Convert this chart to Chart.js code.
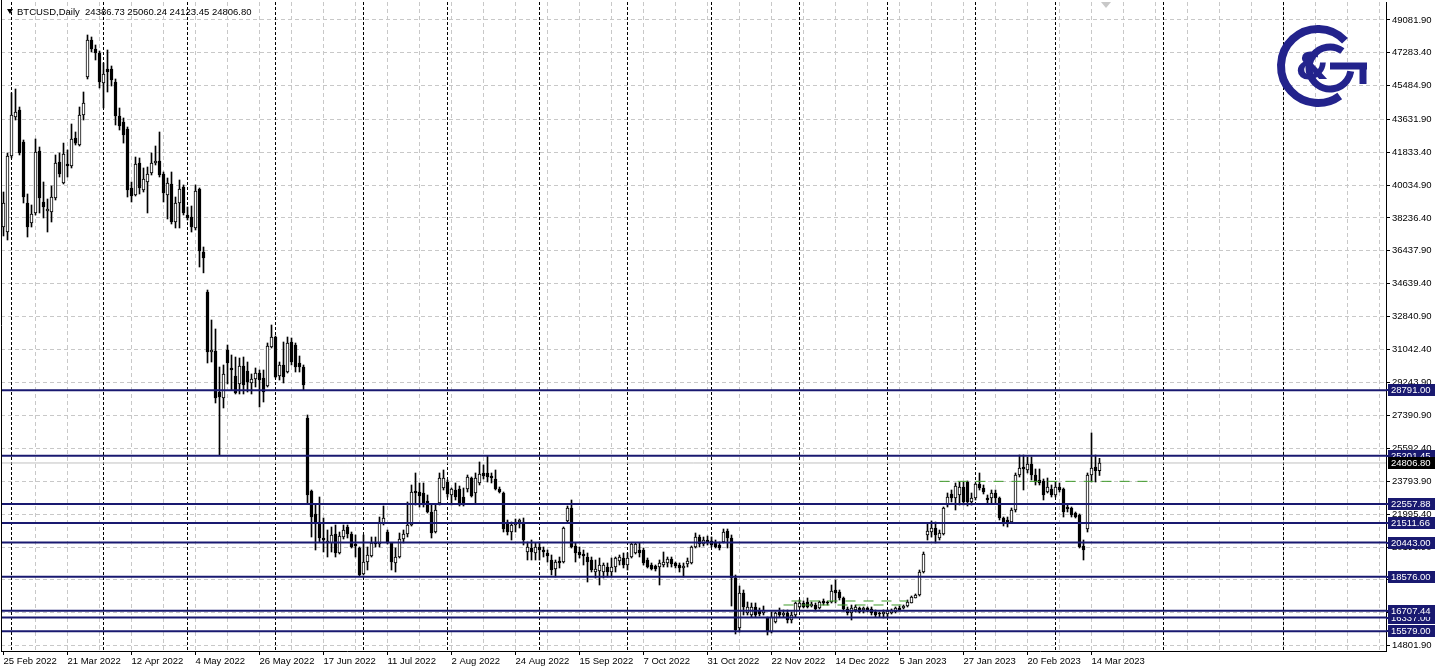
<!DOCTYPE html>
<html>
<head>
<meta charset="utf-8">
<title>BTCUSD Daily</title>
<script src="https://cdn.jsdelivr.net/npm/chart.js@4.4.0/dist/chart.umd.min.js"></script>
<style>
  html, body { margin: 0; padding: 0; background: #fff; }
</style>
</head>
<body>
<canvas id="chart" width="1437" height="672"></canvas>
<script>
const FONT = "'Liberation Sans', Arial, sans-serif";
const FSIZE = 9.5;
const NAVY = '#191970';

// daily bars (weekdays only), bar 0 = 25 Feb 2022, last bar = 16 Mar 2023
const opens = [
  37738, 37464, 41629, 43766, 44150, 42396, 39054, 37958, 38506, 41903,
  39108, 38615, 38560, 39328, 41300, 40150, 41191, 41081, 42616, 42232,
  43876, 45958, 47986, 47493, 47274, 45630, 46397, 46397, 45684, 43821,
  43492, 43109, 39876, 39492, 41246, 39766, 40204, 40698, 41246, 41355,
  40643, 39492, 40095, 38012, 39054, 39930, 38396, 38286, 37684, 39821,
  36368, 34176, 30888, 30943, 28696, 28368, 30998, 30012, 29573, 29135,
  30121, 29847, 29190, 29409, 29738, 29464, 29025, 31162, 31710, 29573,
  30176, 29792, 31436, 31272, 30286, 30066, 27272, 23271, 22011, 21572,
  20696, 20422, 20422, 20915, 19874, 20750, 21298, 20915, 20367, 20148,
  18723, 19380, 19709, 20476, 20367, 21518, 21024, 20422, 19326, 19654,
  20641, 20915, 21408, 23271, 23216, 23162, 22723, 22120, 21024, 22614,
  23436, 23764, 23052, 23326, 23381, 22942, 23381, 23984, 23162, 23710,
  24258, 24258, 24093, 23929, 23381, 23162, 21572, 21024, 21408, 21572,
  21572, 19928, 20148, 19874, 20202, 20038, 19874, 19490, 18997, 19435,
  19380, 21627, 22340, 20257, 19928, 19819, 19654, 19490, 18832, 18887,
  18832, 19106, 18832, 19106, 19435, 19600, 19216, 19654, 19874, 20038,
  20038, 19490, 19216, 19161, 19106, 19216, 19326, 19545, 19326, 19216,
  19052, 19271, 19326, 20202, 20750, 20367, 20586, 20531, 20476, 20312,
  20476, 21079, 20696, 18504, 15764, 17682, 16586, 16476, 16914, 16695,
  16586, 16312, 15544, 16092, 16640, 16476, 16586, 16202, 16476, 16914,
  17134, 17188, 16969, 17024, 16860, 17243, 17188, 17188, 17846, 17736,
  17408, 16805, 16586, 16750, 16860, 16750, 16860, 16805, 16640, 16586,
  16531, 16531, 16586, 16640, 16860, 16860, 16969, 17134, 17408, 17572,
  18832, 20860, 21024, 21244, 20696, 20915, 22504, 23107, 22888, 23052,
  23490, 23764, 22668, 22888, 23655, 23436, 22888, 22888, 23162, 22888,
  21792, 21682, 21572, 22230, 24148, 24586, 24422, 24751, 24148, 23874,
  23819, 23216, 23381, 23052, 23490, 23381, 22394, 22340, 22066, 21956,
  20257, 21189, 24148, 24586, 24386.73
];
const highs = [
  39656, 41794, 45082, 45301, 44314, 42506, 39547, 38944, 42561, 42122,
  40204, 39273, 39985, 41684, 41794, 42338, 41958, 43383, 42944, 44314,
  45136, 48260, 48150, 47712, 47383, 46726, 47438, 46561, 45849, 44260,
  43712, 43218, 40204, 41574, 41520, 40972, 41026, 41794, 42177, 42944,
  40752, 40424, 40752, 39382, 40314, 40040, 38834, 38889, 40040, 39876,
  36642, 34286, 32642, 32149, 30066, 30176, 31272, 30724, 30614, 30560,
  30614, 30340, 29683, 30012, 29902, 29902, 31382, 32368, 31765, 30340,
  31436, 31710, 31656, 31382, 30669, 30176, 27436, 23326, 22504, 22942,
  21792, 21134, 21298, 21408, 21024, 21408, 21408, 21024, 20860, 20202,
  20860, 20202, 20750, 20750, 21846, 22449, 21134, 20422, 20148, 20970,
  21134, 22668, 23600, 24258, 23710, 23710, 23052, 22504, 22504, 24258,
  24422, 23874, 23436, 23710, 23545, 23436, 24148, 24038, 24258, 24860,
  24696, 25189, 24258, 24422, 23490, 23216, 21682, 21572, 21737, 21737,
  21792, 20476, 20586, 20422, 20476, 20202, 20038, 19764, 19490, 19654,
  21298, 22449, 22778, 20422, 20202, 20038, 19874, 19654, 19490, 19600,
  19326, 19326, 19600, 19654, 19764, 19874, 19874, 20422, 20422, 20422,
  20148, 19600, 19326, 19216, 19490, 19928, 19654, 19654, 19380, 19326,
  19326, 19600, 20257, 20970, 20860, 20750, 20805, 20750, 20586, 20476,
  21189, 21189, 20860, 18668, 18065, 17846, 17188, 17134, 17134, 16860,
  16969, 16366, 16640, 16640, 16860, 16750, 16750, 16640, 17188, 17298,
  17243, 17408, 17188, 17134, 17243, 17353, 17243, 18120, 18394, 17846,
  17462, 16914, 17024, 17024, 16914, 16914, 16914, 16914, 16750, 16640,
  16750, 16750, 16805, 16914, 16969, 17024, 17298, 17517, 17627, 18942,
  19928, 21518, 21627, 21572, 21134, 22394, 23162, 23326, 23710, 23764,
  23764, 23819, 23162, 23710, 24258, 23600, 23052, 23326, 23326, 22942,
  21846, 21846, 22340, 24258, 25244, 25244, 25134, 25134, 24477, 24477,
  23929, 23984, 23600, 23764, 23710, 23436, 22504, 22394, 22120, 22011,
  20586, 24258, 26450, 25244, 25060.24
];
const lows = [
  37245, 37026, 41520, 43602, 41684, 39054, 37190, 37738, 38396, 38506,
  38232, 37464, 38012, 39218, 40478, 40095, 40478, 40972, 42232, 42177,
  43602, 45849, 47328, 46890, 45356, 44260, 45136, 45465, 43328, 43054,
  42338, 39382, 39108, 39437, 39547, 39656, 38506, 40588, 41136, 40478,
  39108, 38177, 37903, 37684, 37684, 38396, 38122, 37464, 37574, 35546,
  35224, 30286, 30340, 28094, 25244, 27820, 29135, 28806, 28587, 28587,
  28587, 28696, 28587, 28970, 27874, 28148, 28970, 31108, 29464, 29354,
  29190, 29738, 30176, 29792, 29792, 28806, 22614, 20750, 20038, 20476,
  19928, 19654, 19928, 19654, 19819, 20641, 20696, 20148, 19654, 18613,
  18668, 18942, 19654, 20202, 20202, 21408, 20367, 18942, 18832, 19600,
  20422, 20750, 21353, 22504, 22394, 22394, 22066, 20696, 20970, 22504,
  23326, 22942, 22504, 22778, 22449, 22449, 23216, 22942, 22559, 23600,
  23929, 23764, 23710, 23326, 23162, 21024, 20860, 20586, 21024, 21244,
  20312, 19490, 19490, 19490, 19490, 19654, 19380, 18668, 18558, 19052,
  19326, 21518, 20148, 19380, 19600, 19216, 18284, 18832, 18504, 18120,
  18504, 18558, 18558, 18832, 19216, 19052, 18942, 19600, 19819, 19654,
  19216, 19052, 18942, 18887, 18120, 19106, 19106, 19106, 19052, 18832,
  18558, 19106, 19271, 20148, 20202, 20257, 20312, 20202, 20148, 20038,
  20422, 20148, 16969, 15435, 15544, 16476, 16476, 16366, 16366, 16421,
  16476, 15380, 15490, 16038, 16366, 16366, 16038, 16038, 16366, 16860,
  16860, 16860, 16914, 16750, 16805, 17024, 17024, 17134, 17134, 17298,
  16695, 16476, 16202, 16640, 16586, 16586, 16640, 16476, 16366, 16366,
  16312, 16366, 16531, 16586, 16695, 16805, 16914, 17134, 17408, 17517,
  18778, 20586, 20750, 20422, 20586, 20860, 22394, 22668, 22230, 22504,
  22504, 22449, 22504, 22778, 23326, 23107, 22614, 22614, 22614, 21682,
  21353, 21298, 21518, 22120, 24038, 23326, 24258, 23874, 23600, 23600,
  22778, 23162, 22942, 22942, 23216, 21846, 22120, 21846, 21792, 20148,
  19490, 21024, 23764, 23764, 24123.45
];
const closes = [
  39054, 41629, 43876, 44040, 41794, 39382, 37738, 38451, 41848, 39328,
  38834, 38725, 39382, 41246, 40643, 41739, 41081, 42561, 42338, 43876,
  44534, 47986, 47493, 47274, 45684, 46123, 46232, 45794, 43821, 43273,
  42780, 39766, 39437, 41191, 39876, 40369, 40643, 41246, 41355, 40588,
  39602, 40150, 38012, 39054, 39821, 38506, 38232, 37738, 39711, 36423,
  36040, 30888, 30998, 28368, 28422, 29683, 30286, 29902, 28642, 30121,
  29080, 29244, 29409, 29738, 29354, 28696, 31217, 31710, 29518, 30176,
  29518, 31382, 30340, 30066, 30066, 29080, 23052, 21846, 21572, 20696,
  20586, 20531, 20860, 19874, 20805, 21134, 20915, 20202, 20257, 18668,
  19380, 19764, 20422, 20367, 21572, 21792, 20422, 19380, 19654, 20641,
  20915, 21408, 23216, 23162, 22997, 22559, 22120, 20970, 22230, 23984,
  23984, 23107, 23381, 22942, 22504, 22504, 24038, 22997, 23984, 24203,
  24093, 24038, 23984, 23381, 23216, 21189, 21024, 21408, 21572, 21682,
  20586, 20202, 19928, 20202, 20038, 19928, 19709, 18942, 19380, 19326,
  21244, 22340, 20202, 19874, 19764, 19709, 19380, 18942, 18997, 19216,
  19216, 18832, 19106, 19600, 19654, 19216, 19600, 20367, 20367, 19874,
  19326, 19106, 18997, 18997, 19326, 19380, 19545, 19271, 19161, 19052,
  19161, 19435, 20202, 20750, 20367, 20586, 20422, 20312, 20202, 20148,
  21024, 20696, 18504, 15654, 17682, 16914, 16914, 16914, 16476, 16531,
  16750, 15544, 16366, 16586, 16476, 16586, 16202, 16476, 17134, 17134,
  16914, 16914, 17079, 16805, 17188, 17134, 17134, 17791, 17682, 17408,
  16805, 16586, 16860, 16914, 16640, 16860, 16695, 16586, 16476, 16531,
  16640, 16695, 16750, 16860, 16750, 16969, 17188, 17462, 17572, 18832,
  19819, 21079, 21244, 20860, 20970, 22340, 22942, 22888, 23545, 23490,
  22668, 22668, 22888, 23655, 23436, 23216, 22778, 23162, 22888, 21792,
  21518, 21518, 22230, 24148, 24532, 24477, 24751, 24148, 23764, 23710,
  23052, 23490, 23052, 23490, 23326, 22120, 22285, 21956, 21846, 20202,
  20038, 24148, 24532, 24390, 24806.80
];

// axis labels: one date label every 16 bars
const dateLabels = ['25 Feb 2022', '21 Mar 2022', '12 Apr 2022', '4 May 2022', '26 May 2022',
  '17 Jun 2022', '11 Jul 2022', '2 Aug 2022', '24 Aug 2022', '15 Sep 2022', '7 Oct 2022',
  '31 Oct 2022', '22 Nov 2022', '14 Dec 2022', '5 Jan 2023', '27 Jan 2023', '20 Feb 2023', '14 Mar 2023'];
const priceTicks = [49081.90, 47283.40, 45484.90, 43631.90, 41833.40, 40034.90, 38236.40,
  36437.90, 34639.40, 32840.90, 31042.40, 29243.90, 27390.90, 25592.40, 23793.90, 21995.40,
  20196.90, 18398.40, 16599.90, 14801.90];

// horizontal support / resistance levels
const levels = [28791.00, 25201.45, 22557.88, 21511.66, 20443.00, 18576.00, 16337.00, 16707.44, 15579.00];
const lastPrice = 24806.80;

// first bar of each month (period separators); future slots count calendar days
const monthStarts = [2, 25, 46, 68, 90, 111, 134, 156, 177, 199, 221, 243, 263, 290, 320];

// green dashed lines: price, first bar, last bar
const greenPrices = [17243, 17024, 23800];
const greenFrom = [197, 195, 234];
const greenTo = [226, 225, 288];

const X_MIN = -0.625, X_MAX = 345.625;
const Y_MIN = 14503, Y_MAX = 50068;

const bodies = opens.map((o, i) => ({ x: i, y: [o, closes[i]] }));
const wicks = lows.map((l, i) => ({ x: i, y: [l, highs[i]] }));

const datasets = [];
levels.forEach(v => datasets.push({
  type: 'line', data: [{ x: X_MIN, y: v }, { x: X_MAX, y: v }],
  borderColor: NAVY, borderWidth: 2, pointRadius: 0, order: 0
}));
greenPrices.forEach((v, k) => datasets.push({
  type: 'line', data: [{ x: greenFrom[k], y: v }, { x: greenTo[k], y: v }],
  borderColor: '#3f9a2a', borderWidth: 1, borderDash: [10, 8], pointRadius: 0, order: 1
}));
datasets.push({
  type: 'bar', data: bodies, order: 2, grouped: false, barThickness: 3, minBarLength: 1,
  backgroundColor: c => (closes[c.dataIndex] >= opens[c.dataIndex] ? '#fff' : '#000'),
  borderColor: '#000', borderWidth: 1, borderSkipped: false
});
datasets.push({
  type: 'bar', data: wicks, order: 3, grouped: false, barThickness: 1,
  backgroundColor: '#000', borderWidth: 0
});
datasets.push({
  type: 'line', data: [{ x: X_MIN, y: lastPrice }, { x: X_MAX, y: lastPrice }],
  borderColor: '#c0c0c0', borderWidth: 1, pointRadius: 0, order: 4
});

const isLabelTick = v => v % 16 === 0 && v / 16 < dateLabels.length;

function priceBox(ctx, area, y, text, bg) {
  const yy = Math.round(y);
  ctx.fillStyle = bg;
  ctx.fillRect(area.right + 2, yy - 6, 47, 12);
  ctx.fillStyle = '#fff';
  ctx.fillText(text, area.right + 5, yy + 0.5);
}

const overlay = {
  id: 'overlay',
  beforeDraw(chart) {
    const ctx = chart.ctx;
    ctx.save();
    ctx.fillStyle = '#fff';
    ctx.fillRect(0, 0, chart.width, chart.height);
    ctx.restore();
  },
  beforeDatasetsDraw(chart) {
    const { ctx, chartArea: a, scales: { x } } = chart;
    ctx.save();
    ctx.strokeStyle = '#000';
    ctx.lineWidth = 1;
    ctx.setLineDash([3, 2]);
    monthStarts.forEach(i => {
      const px = x.getPixelForValue(i);
      ctx.beginPath();
      ctx.moveTo(px, a.top);
      ctx.lineTo(px, a.bottom);
      ctx.stroke();
    });
    ctx.restore();
  },
  afterDraw(chart) {
    const { ctx, chartArea: a, scales: { y } } = chart;
    ctx.save();
    // left border
    ctx.strokeStyle = '#000';
    ctx.beginPath();
    ctx.moveTo(a.left + 0.5, 0);
    ctx.lineTo(a.left + 0.5, a.bottom);
    ctx.stroke();

    ctx.font = FSIZE + 'px ' + FONT;
    ctx.textBaseline = 'middle';
    ctx.textAlign = 'left';
    levels.forEach(v => {
      ctx.fillStyle = NAVY;
      ctx.fillRect(a.right, Math.round(y.getPixelForValue(v)) - 1, 3, 2);
      priceBox(ctx, a, y.getPixelForValue(v), v.toFixed(2), NAVY);
    });
    priceBox(ctx, a, y.getPixelForValue(lastPrice), lastPrice.toFixed(2), '#000');

    // title
    ctx.fillStyle = '#000';
    ctx.beginPath();
    ctx.moveTo(7, 9); ctx.lineTo(13, 9); ctx.lineTo(10, 14); ctx.closePath();
    ctx.fill();
    ctx.fillText('BTCUSD,Daily  24386.73 25060.24 24123.45 24806.80', 17, 12);

    // chart shift marker
    ctx.fillStyle = '#c8c8c8';
    ctx.beginPath();
    ctx.moveTo(1101, 2); ctx.lineTo(1111, 2); ctx.lineTo(1106, 8); ctx.closePath();
    ctx.fill();

    // logo
    const cx = 1318, cy = 66, LOGO = '#23238c';
    ctx.strokeStyle = LOGO;
    ctx.fillStyle = LOGO;
    ctx.lineWidth = 8;
    ctx.beginPath();
    ctx.arc(cx, cy, 37, -0.24 * Math.PI, 0.3 * Math.PI, true);
    ctx.stroke();
    ctx.lineWidth = 7;
    ctx.beginPath();
    ctx.arc(cx + 12, cy + 2, 21, -0.3 * Math.PI, 0.05 * Math.PI, true);
    ctx.stroke();
    ctx.beginPath();
    ctx.moveTo(cx + 12, cy);
    ctx.lineTo(cx + 49, cy);
    ctx.stroke();
    ctx.beginPath();
    ctx.moveTo(cx + 45, cy);
    ctx.lineTo(cx + 45, cy + 18);
    ctx.stroke();
    ctx.font = 'bold 38px "DejaVu Sans", sans-serif';
    ctx.textAlign = 'center';
    ctx.fillText('&', cx - 6, cy + 3);
    ctx.restore();
  }
};

new Chart(document.getElementById('chart'), {
  type: 'bar',
  data: { datasets },
  options: {
    responsive: false,
    animation: false,
    events: [],
    layout: { padding: { left: 1, top: 2, right: 0, bottom: 0 } },
    plugins: { legend: { display: false }, tooltip: { enabled: false } },
    scales: {
      x: {
        type: 'linear', min: X_MIN, max: X_MAX, offset: false,
        afterBuildTicks: s => {
          const t = [];
          for (let v = 0; v <= X_MAX; v += 8) t.push({ value: v });
          s.ticks = t;
        },
        afterFit: s => { s.height = 21; s.paddingLeft = 0; s.paddingRight = 0; },
        ticks: {
          autoSkip: false, maxRotation: 0, minRotation: 0, align: 'start', padding: 1,
          color: '#000', font: { family: FONT, size: FSIZE },
          callback: v => isLabelTick(v) ? dateLabels[v / 16] : ''
        },
        grid: {
          offset: false, lineWidth: 1, tickLength: 4,
          color: c => (c.tick && c.tick.value === 0) ? 'rgba(0,0,0,0)' : '#c8c8c8',
          tickColor: c => (c.tick && isLabelTick(c.tick.value)) ? '#000' : 'rgba(0,0,0,0)'
        },
        border: { color: '#000', width: 1, dash: [4, 3] }
      },
      y: {
        position: 'right', min: Y_MIN, max: Y_MAX,
        afterBuildTicks: s => { s.ticks = priceTicks.map(v => ({ value: v })); },
        afterFit: s => { s.width = 51; s.paddingTop = 0; s.paddingBottom = 0; },
        ticks: {
          autoSkip: false, padding: 2, color: '#000', font: { family: FONT, size: FSIZE },
          callback: v => v.toFixed(2)
        },
        grid: { color: '#c8c8c8', lineWidth: 1, tickColor: '#000', tickLength: 4 },
        border: { color: '#000', width: 1, dash: [4, 3] }
      }
    }
  },
  plugins: [overlay]
});
</script>
</body>
</html>
